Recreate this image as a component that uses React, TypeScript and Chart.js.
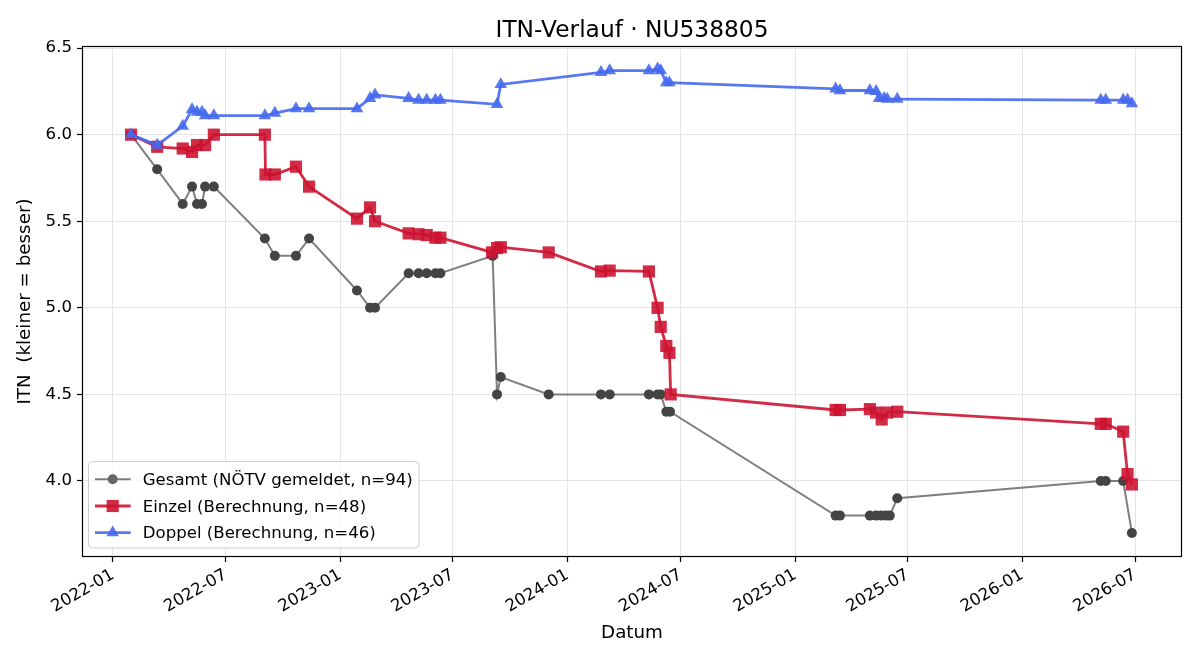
import React, { useEffect, useRef } from "react";
import { Chart, registerables } from "chart.js";
Chart.register(...registerables);

const gesamtDates = [
  "2022-01-30", "2022-03-13", "2022-04-23", "2022-05-08", "2022-05-16", "2022-05-24", "2022-05-29", "2022-06-12",
  "2022-09-02", "2022-09-18", "2022-10-22", "2022-11-12", "2023-01-28", "2023-02-18", "2023-02-26", "2023-04-21",
  "2023-05-07", "2023-05-20", "2023-06-03", "2023-06-11", "2023-09-03", "2023-09-10", "2023-09-16", "2023-12-02",
  "2024-02-24", "2024-03-09", "2024-05-11", "2024-05-25", "2024-05-30", "2024-06-08", "2024-06-14", "2025-03-07",
  "2025-03-14", "2025-05-01", "2025-05-11", "2025-05-19", "2025-05-27", "2025-06-02", "2025-06-14", "2026-05-07",
  "2026-05-15", "2026-06-12", "2026-06-26",
];
const gesamtValues = [
  6.0, 5.8, 5.6, 5.7, 5.6, 5.6, 5.7, 5.7,
  5.4, 5.3, 5.3, 5.4, 5.1, 5.0, 5.0, 5.2,
  5.2, 5.2, 5.2, 5.2, 5.3, 4.5, 4.6, 4.5,
  4.5, 4.5, 4.5, 4.5, 4.5, 4.4, 4.4, 3.8,
  3.8, 3.8, 3.8, 3.8, 3.8, 3.8, 3.9, 4.0,
  4.0, 4.0, 3.7,
];

const einzelDates = [
  "2022-01-30", "2022-03-13", "2022-04-23", "2022-05-08", "2022-05-16", "2022-05-29", "2022-06-12", "2022-09-02",
  "2022-09-03", "2022-09-18", "2022-10-22", "2022-11-12", "2023-01-28", "2023-02-18", "2023-02-26", "2023-04-21",
  "2023-05-07", "2023-05-20", "2023-06-03", "2023-06-11", "2023-09-02", "2023-09-10", "2023-09-16", "2023-12-02",
  "2024-02-24", "2024-03-09", "2024-05-11", "2024-05-25", "2024-05-30", "2024-06-08", "2024-06-13", "2024-06-15",
  "2025-03-07", "2025-03-14", "2025-05-01", "2025-05-11", "2025-05-20", "2025-05-29", "2025-06-14", "2026-05-07",
  "2026-05-15", "2026-06-12", "2026-06-19", "2026-06-26",
];
const einzelValues = [
  6.0, 5.93, 5.92, 5.9, 5.94, 5.94, 6.0, 6.0,
  5.77, 5.77, 5.815, 5.7, 5.515, 5.58, 5.5, 5.43,
  5.425, 5.42, 5.405, 5.405, 5.32, 5.345, 5.35, 5.32,
  5.21, 5.215, 5.21, 5.0, 4.89, 4.78, 4.74, 4.5,
  4.41, 4.41, 4.415, 4.395, 4.355, 4.395, 4.4, 4.33,
  4.33, 4.285, 4.04, 3.98,
];

const doppelDates = [
  "2022-01-30", "2022-03-13", "2022-04-23", "2022-05-08", "2022-05-16", "2022-05-24", "2022-05-29", "2022-06-12",
  "2022-09-02", "2022-09-18", "2022-10-22", "2022-11-12", "2023-01-28", "2023-02-18", "2023-02-26", "2023-04-21",
  "2023-05-07", "2023-05-20", "2023-06-03", "2023-06-11", "2023-09-10", "2023-09-16", "2024-02-24", "2024-03-09",
  "2024-05-11", "2024-05-25", "2024-05-30", "2024-06-08", "2024-06-13", "2025-03-07", "2025-03-14", "2025-05-01",
  "2025-05-11", "2025-05-16", "2025-05-24", "2025-05-29", "2025-06-14", "2026-05-07", "2026-05-15", "2026-06-12",
  "2026-06-19", "2026-06-26",
];
const doppelValues = [
  6.0, 5.94, 6.05, 6.145, 6.13, 6.13, 6.11, 6.11,
  6.11, 6.125, 6.15, 6.15, 6.15, 6.21, 6.23, 6.21,
  6.2, 6.2, 6.2, 6.2, 6.175, 6.29, 6.36, 6.37,
  6.37, 6.38, 6.37, 6.3, 6.3, 6.265, 6.255, 6.255,
  6.25, 6.21, 6.21, 6.205, 6.205, 6.2, 6.2, 6.2,
  6.2, 6.18,
];

const xTickDates = [
  "2022-01-01", "2022-07-01", "2023-01-01", "2023-07-01", "2024-01-01",
  "2024-07-01", "2025-01-01", "2025-07-01", "2026-01-01", "2026-07-01",
];
const xTickLabels = [
  "2022-01", "2022-07", "2023-01", "2023-07", "2024-01",
  "2024-07", "2025-01", "2025-07", "2026-01", "2026-07",
];
const yTicks = [4.0, 4.5, 5.0, 5.5, 6.0, 6.5];

const legendLabels = [
  "Gesamt (NÖTV gemeldet, n=94)",
  "Einzel (Berechnung, n=48)",
  "Doppel (Berechnung, n=46)",
];
const titleText = "ITN-Verlauf · NU538805";

const FONT = "'DejaVu Sans', sans-serif";
const BASE = Date.UTC(2022, 0, 1);
const day = (s: string) => {
  const [y, m, d] = s.split("-").map(Number);
  return (Date.UTC(y, m - 1, d) - BASE) / 86400000;
};
const pts = (dates: string[], vals: number[]) => dates.map((d, i) => ({ x: day(d), y: vals[i] }));

const GRAY_LINE = "#7f7f7f";
const GRAY_PT = "#444444";
const RED = "rgba(204,20,50,0.9)";
const BLUE = "rgba(70,105,240,0.9)";

const styles = [
  { line: GRAY_LINE, pt: GRAY_PT, legPt: "#666666", style: "circle", r: 5, w: 2 },
  { line: RED, pt: RED, legPt: RED, style: "rect", r: 8.6, w: 2.8 },
  { line: BLUE, pt: BLUE, legPt: BLUE, style: "triangle", r: 7.3, w: 2.8 },
];

const decor = {
  id: "decor",
  afterDraw(chart: any) {
    const { ctx, chartArea: a } = chart;
    ctx.save();
    // title
    ctx.fillStyle = "#000";
    ctx.font = `23.3px ${FONT}`;
    ctx.textAlign = "center";
    ctx.textBaseline = "alphabetic";
    ctx.fillText(titleText, (a.left + a.right) / 2, 36.5);
    // frame
    ctx.strokeStyle = "#000";
    ctx.lineWidth = 1.2;
    ctx.strokeRect(Math.round(a.left) + 0.5, Math.round(a.top) + 0.5, Math.round(a.right - a.left) - 1, Math.round(a.bottom - a.top) - 1);
    // legend
    const bx = 88.5, by = 461.5, bw = 330.5, bh = 86.5, rad = 4;
    ctx.beginPath();
    ctx.moveTo(bx + rad, by);
    ctx.arcTo(bx + bw, by, bx + bw, by + bh, rad);
    ctx.arcTo(bx + bw, by + bh, bx, by + bh, rad);
    ctx.arcTo(bx, by + bh, bx, by, rad);
    ctx.arcTo(bx, by, bx + bw, by, rad);
    ctx.closePath();
    ctx.fillStyle = "rgba(255,255,255,0.8)";
    ctx.fill();
    ctx.strokeStyle = "#cccccc";
    ctx.lineWidth = 1;
    ctx.stroke();
    const rows = [479.3, 506, 532.7];
    const baselines = [485, 511.7, 538.3];
    const cx = 112.7;
    legendLabels.forEach((lab, i) => {
      const s = styles[i];
      const y = rows[i];
      ctx.strokeStyle = s.line;
      ctx.lineWidth = s.w;
      ctx.beginPath();
      ctx.moveTo(95, y);
      ctx.lineTo(130.7, y);
      ctx.stroke();
      ctx.fillStyle = s.legPt;
      ctx.beginPath();
      if (s.style === "circle") {
        ctx.arc(cx, y, s.r, 0, Math.PI * 2);
      } else if (s.style === "rect") {
        const h = s.r * Math.SQRT1_2;
        ctx.rect(cx - h, y - h, 2 * h, 2 * h);
      } else {
        ctx.moveTo(cx, y - s.r * 0.75 - s.r * 0.25);
        ctx.lineTo(cx + s.r * 0.866, y + s.r / 2);
        ctx.lineTo(cx - s.r * 0.866, y + s.r / 2);
        ctx.closePath();
      }
      ctx.fill();
      ctx.fillStyle = "#000";
      ctx.font = `16.6px ${FONT}`;
      ctx.textAlign = "left";
      ctx.textBaseline = "alphabetic";
      ctx.fillText(lab, 142.7, baselines[i]);
    });
    ctx.restore();
  },
};

export default function App() {
  const ref = useRef<HTMLCanvasElement | null>(null);
  useEffect(() => {
    if (!ref.current) return;
    const series = [
      pts(gesamtDates, gesamtValues),
      pts(einzelDates, einzelValues),
      pts(doppelDates, doppelValues),
    ];
    const chart = new Chart(ref.current, {
      type: "line",
      data: {
        datasets: series.map((d, i) => ({
          label: legendLabels[i],
          data: d,
          borderColor: styles[i].line,
          backgroundColor: styles[i].pt,
          pointBackgroundColor: styles[i].pt,
          pointBorderColor: styles[i].pt,
          pointBorderWidth: 0,
          pointStyle: styles[i].style as any,
          pointRadius: styles[i].r,
          borderWidth: styles[i].w,
          tension: 0,
          fill: false,
          order: 2 - i,
        })),
      },
      options: {
        animation: false,
        responsive: false,
        devicePixelRatio: 1,
        parsing: false as any,
        layout: { padding: { top: 46, right: 18, left: 0, bottom: 0 } },
        plugins: {
          legend: { display: false },
          title: { display: false },
          tooltip: { enabled: false },
        },
        scales: {
          x: {
            type: "linear",
            min: -49.8,
            max: 1717.5,
            afterBuildTicks: (s: any) => {
              s.ticks = xTickDates.map((d) => ({ value: day(d) }));
            },
            afterFit: (s: any) => {
              s.height = 103;
            },
            ticks: {
              autoSkip: false,
              minRotation: 30,
              maxRotation: 30,
              padding: 3,
              color: "#000",
              font: { family: FONT, size: 16.6 },
              callback: (_v: any, i: number) => xTickLabels[i],
            },
            grid: {
              color: "#e4e4e4",
              lineWidth: 1,
              drawTicks: true,
              tickLength: 5,
              tickColor: "#000",
              tickWidth: 1.2,
            },
            border: { display: false },
            title: {
              display: true,
              text: "Datum",
              color: "#000",
              font: { family: FONT, size: 18.3 },
              padding: { top: 0, bottom: 16 },
            },
          },
          y: {
            type: "linear",
            min: 3.561,
            max: 6.512,
            afterBuildTicks: (s: any) => {
              s.ticks = yTicks.map((v) => ({ value: v }));
            },
            afterFit: (s: any) => {
              s.width = 82;
            },
            ticks: {
              padding: 5,
              color: "#000",
              font: { family: FONT, size: 16.6 },
              callback: (v: any) => Number(v).toFixed(1),
            },
            grid: {
              color: "#e4e4e4",
              lineWidth: 1,
              drawTicks: true,
              tickLength: 5,
              tickColor: "#000",
              tickWidth: 1.2,
            },
            border: { display: false },
            title: {
              display: true,
              text: "ITN  (kleiner = besser)",
              color: "#000",
              font: { family: FONT, size: 18.3 },
              padding: { top: 14, bottom: 0 },
            },
          },
        },
      },
      plugins: [decor],
    });
    return () => chart.destroy();
  }, []);
  return (
    <div style={{ position: "fixed", left: 0, top: 0, width: 1200, height: 660, background: "#fff" }}>
      <canvas ref={ref} width={1200} height={660} style={{ width: 1200, height: 660, display: "block" }} />
    </div>
  );
}
